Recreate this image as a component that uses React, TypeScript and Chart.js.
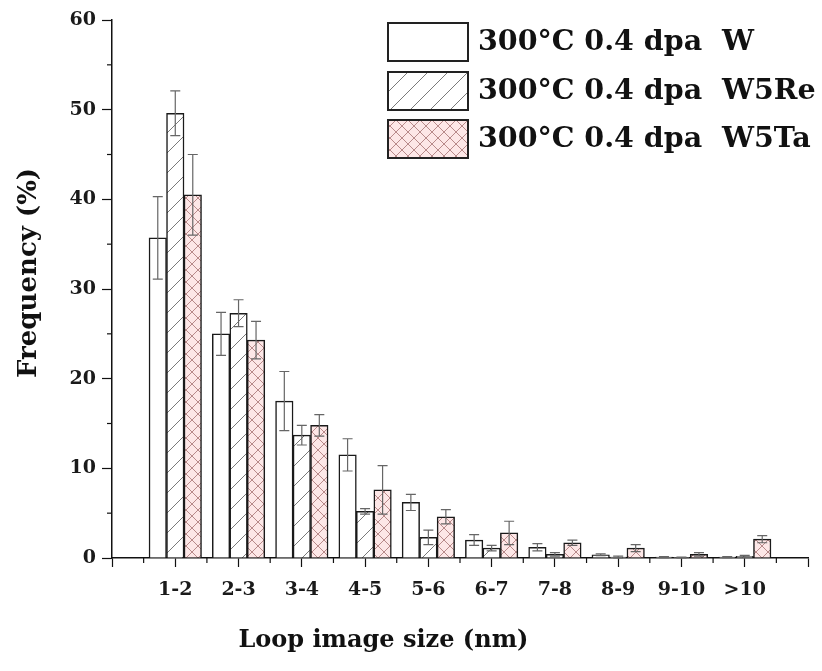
import React, { useEffect, useRef } from 'react';
import { Chart, registerables } from 'chart.js';

Chart.register(...registerables);

// ---- data ----
const categories = ['1-2', '2-3', '3-4', '4-5', '5-6', '6-7', '7-8', '8-9', '9-10', '>10'];
const seriesNames = ['300°C 0.4 dpa  W', '300°C 0.4 dpa  W5Re', '300°C 0.4 dpa  W5Ta'];
const valuesW = [35.7, 25.0, 17.5, 11.5, 6.2, 2.0, 1.2, 0.35, 0.1, 0.1];
const errorsW = [4.6, 2.4, 3.3, 1.8, 0.9, 0.6, 0.4, 0.1, 0.05, 0.05];
const valuesW5Re = [49.6, 27.3, 13.7, 5.2, 2.3, 1.1, 0.4, 0.1, 0.05, 0.2];
const errorsW5Re = [2.5, 1.5, 1.1, 0.3, 0.8, 0.3, 0.2, 0.1, 0.05, 0.1];
const valuesW5Ta = [40.5, 24.3, 14.8, 7.6, 4.6, 2.8, 1.7, 1.1, 0.4, 2.1];
const errorsW5Ta = [4.5, 2.1, 1.2, 2.7, 0.8, 1.3, 0.3, 0.4, 0.2, 0.4];
const xTitle = 'Loop image size (nm)';
const yTitle = 'Frequency (%)';

const FONT = "'DejaVu Serif', 'Liberation Serif', serif";

function makePattern(kind: 'plain' | 'diag' | 'cross'): CanvasPattern | string {
  if (kind === 'plain') return '#ffffff';
  const c = document.createElement('canvas');
  const size = kind === 'diag' ? 20 : 12;
  c.width = size;
  c.height = size;
  const g = c.getContext('2d')!;
  g.fillStyle = kind === 'diag' ? '#ffffff' : '#fde7e7';
  g.fillRect(0, 0, size, size);
  g.strokeStyle = kind === 'diag' ? '#7a7a7a' : '#b88a8a';
  g.lineWidth = 1;
  const line = (x1: number, y1: number, x2: number, y2: number) => {
    g.beginPath();
    g.moveTo(x1, y1);
    g.lineTo(x2, y2);
    g.stroke();
  };
  line(-2, size + 2, size + 2, -2);
  if (kind === 'cross') {
    line(-2, -2, size + 2, size + 2);
  }
  return g.createPattern(c, 'repeat')!;
}

const errorBarPlugin = {
  id: 'errorBars',
  afterDatasetsDraw(chart: any) {
    const ctx = chart.ctx;
    const yScale = chart.scales.y;
    chart.data.datasets.forEach((ds: any, i: number) => {
      const meta = chart.getDatasetMeta(i);
      const errs: number[] = ds.errors || [];
      meta.data.forEach((el: any, j: number) => {
        const v = ds.data[j].y;
        const e = errs[j];
        if (e == null || !e) return;
        const x = el.x;
        const yt = yScale.getPixelForValue(v + e);
        const yb = yScale.getPixelForValue(Math.max(v - e, 0));
        ctx.save();
        ctx.strokeStyle = '#666';
        ctx.lineWidth = 1.2;
        ctx.beginPath();
        ctx.moveTo(x, yt);
        ctx.lineTo(x, yb);
        ctx.moveTo(x - 5, yt);
        ctx.lineTo(x + 5, yt);
        ctx.moveTo(x - 5, yb);
        ctx.lineTo(x + 5, yb);
        ctx.stroke();
        ctx.restore();
      });
    });
  },
};

const decorPlugin = {
  id: 'decor',
  afterDraw(chart: any) {
    const ctx = chart.ctx;
    const { x, y } = chart.scales;
    const area = chart.chartArea;
    ctx.save();
    ctx.strokeStyle = '#111';
    ctx.lineWidth = 1.2;
    // minor ticks on y
    for (let v = 5; v < 60; v += 10) {
      const py = y.getPixelForValue(v);
      ctx.beginPath();
      ctx.moveTo(area.left, py);
      ctx.lineTo(area.left - 5, py);
      ctx.stroke();
    }
    // minor ticks on x
    for (let v = 0.5; v < 11; v += 1) {
      const px = x.getPixelForValue(v);
      ctx.beginPath();
      ctx.moveTo(px, area.bottom);
      ctx.lineTo(px, area.bottom + 5);
      ctx.stroke();
    }
    // x axis title
    ctx.fillStyle = '#111';
    ctx.font = `bold 24px ${FONT}`;
    ctx.textAlign = 'center';
    ctx.textBaseline = 'middle';
    ctx.fillText(xTitle, area.left + (area.right - area.left) * 0.39, 641);

    // y axis title
    ctx.save();
    ctx.font = `bold 26px ${FONT}`;
    ctx.translate(29, area.top + (area.bottom - area.top) * 0.47);
    ctx.rotate(-Math.PI / 2);
    ctx.fillText(yTitle, 0, 0);
    ctx.restore();

    // legend
    const boxX = 388;
    const boxW = 80;
    const boxH = 38;
    const rowTops = [23, 72, 120];
    chart.data.datasets.forEach((ds: any, i: number) => {
      const top = rowTops[i];
      ctx.fillStyle = ds.backgroundColor;
      ctx.fillRect(boxX, top, boxW, boxH);
      ctx.strokeStyle = '#222';
      ctx.lineWidth = 2;
      ctx.strokeRect(boxX, top, boxW, boxH);
      ctx.fillStyle = '#111';
      ctx.font = `bold 28.5px ${FONT}`;
      ctx.textAlign = 'left';
      ctx.textBaseline = 'middle';
      ctx.fillText(ds.label, boxX + boxW + 10, top + boxH / 2 + 1);
    });
    ctx.restore();
  },
};

export default function App() {
  const ref = useRef<HTMLCanvasElement | null>(null);

  useEffect(() => {
    if (!ref.current) return;
    const series = [
      { name: seriesNames[0], values: valuesW, errors: errorsW, kind: 'plain' as const },
      { name: seriesNames[1], values: valuesW5Re, errors: errorsW5Re, kind: 'diag' as const },
      { name: seriesNames[2], values: valuesW5Ta, errors: errorsW5Ta, kind: 'cross' as const },
    ];
    const chart = new Chart(ref.current, {
      type: 'bar',
      data: {
        datasets: series.map((s) => ({
          label: s.name,
          data: s.values.map((v, i) => ({ x: i + 1, y: v })),
          errors: s.errors,
          backgroundColor: makePattern(s.kind),
          borderColor: '#1a1a1a',
          borderWidth: 1.5,
          barThickness: 17.5,
        })) as any,
      },
      options: {
        responsive: false,
        animation: false,
        devicePixelRatio: 1,
        layout: { padding: { top: 20, right: 14, left: 0, bottom: 0 } },
        plugins: {
          legend: { display: false },
          tooltip: { enabled: false },
        },
        scales: {
          x: {
            type: 'linear',
            min: 0,
            max: 11,
            offset: false,
            afterFit(scale: any) {
              scale.height = 113;
            },
            ticks: {
              stepSize: 1,
              autoSkip: false,
              maxRotation: 0,
              padding: 12,
              color: '#1a1a1a',
              font: { family: FONT, weight: 'bold', size: 19 },
              callback: (v: any) => {
                const n = Number(v);
                return Number.isInteger(n) && n >= 1 && n <= categories.length ? categories[n - 1] : '';
              },
            },
            grid: { drawOnChartArea: false, offset: false, color: '#111', tickLength: 9, tickWidth: 1.2 },
            border: { color: '#111', width: 1.5 },
          },
          y: {
            min: 0,
            max: 60,
            afterFit(scale: any) {
              scale.width = 112;
            },
            ticks: {
              stepSize: 10,
              padding: 6,
              color: '#1a1a1a',
              font: { family: FONT, weight: 'bold', size: 19 },
            },
            grid: { drawOnChartArea: false, color: '#111', tickLength: 10, tickWidth: 1.2 },
            border: { color: '#111', width: 1.5 },
          },
        },
      } as any,
      plugins: [errorBarPlugin, decorPlugin],
    });
    return () => chart.destroy();
  }, []);

  return (
    <div style={{ position: 'absolute', left: 0, top: 0, width: 822, height: 671, background: '#fff' }}>
      <canvas ref={ref} width={822} height={671} />
    </div>
  );
}
